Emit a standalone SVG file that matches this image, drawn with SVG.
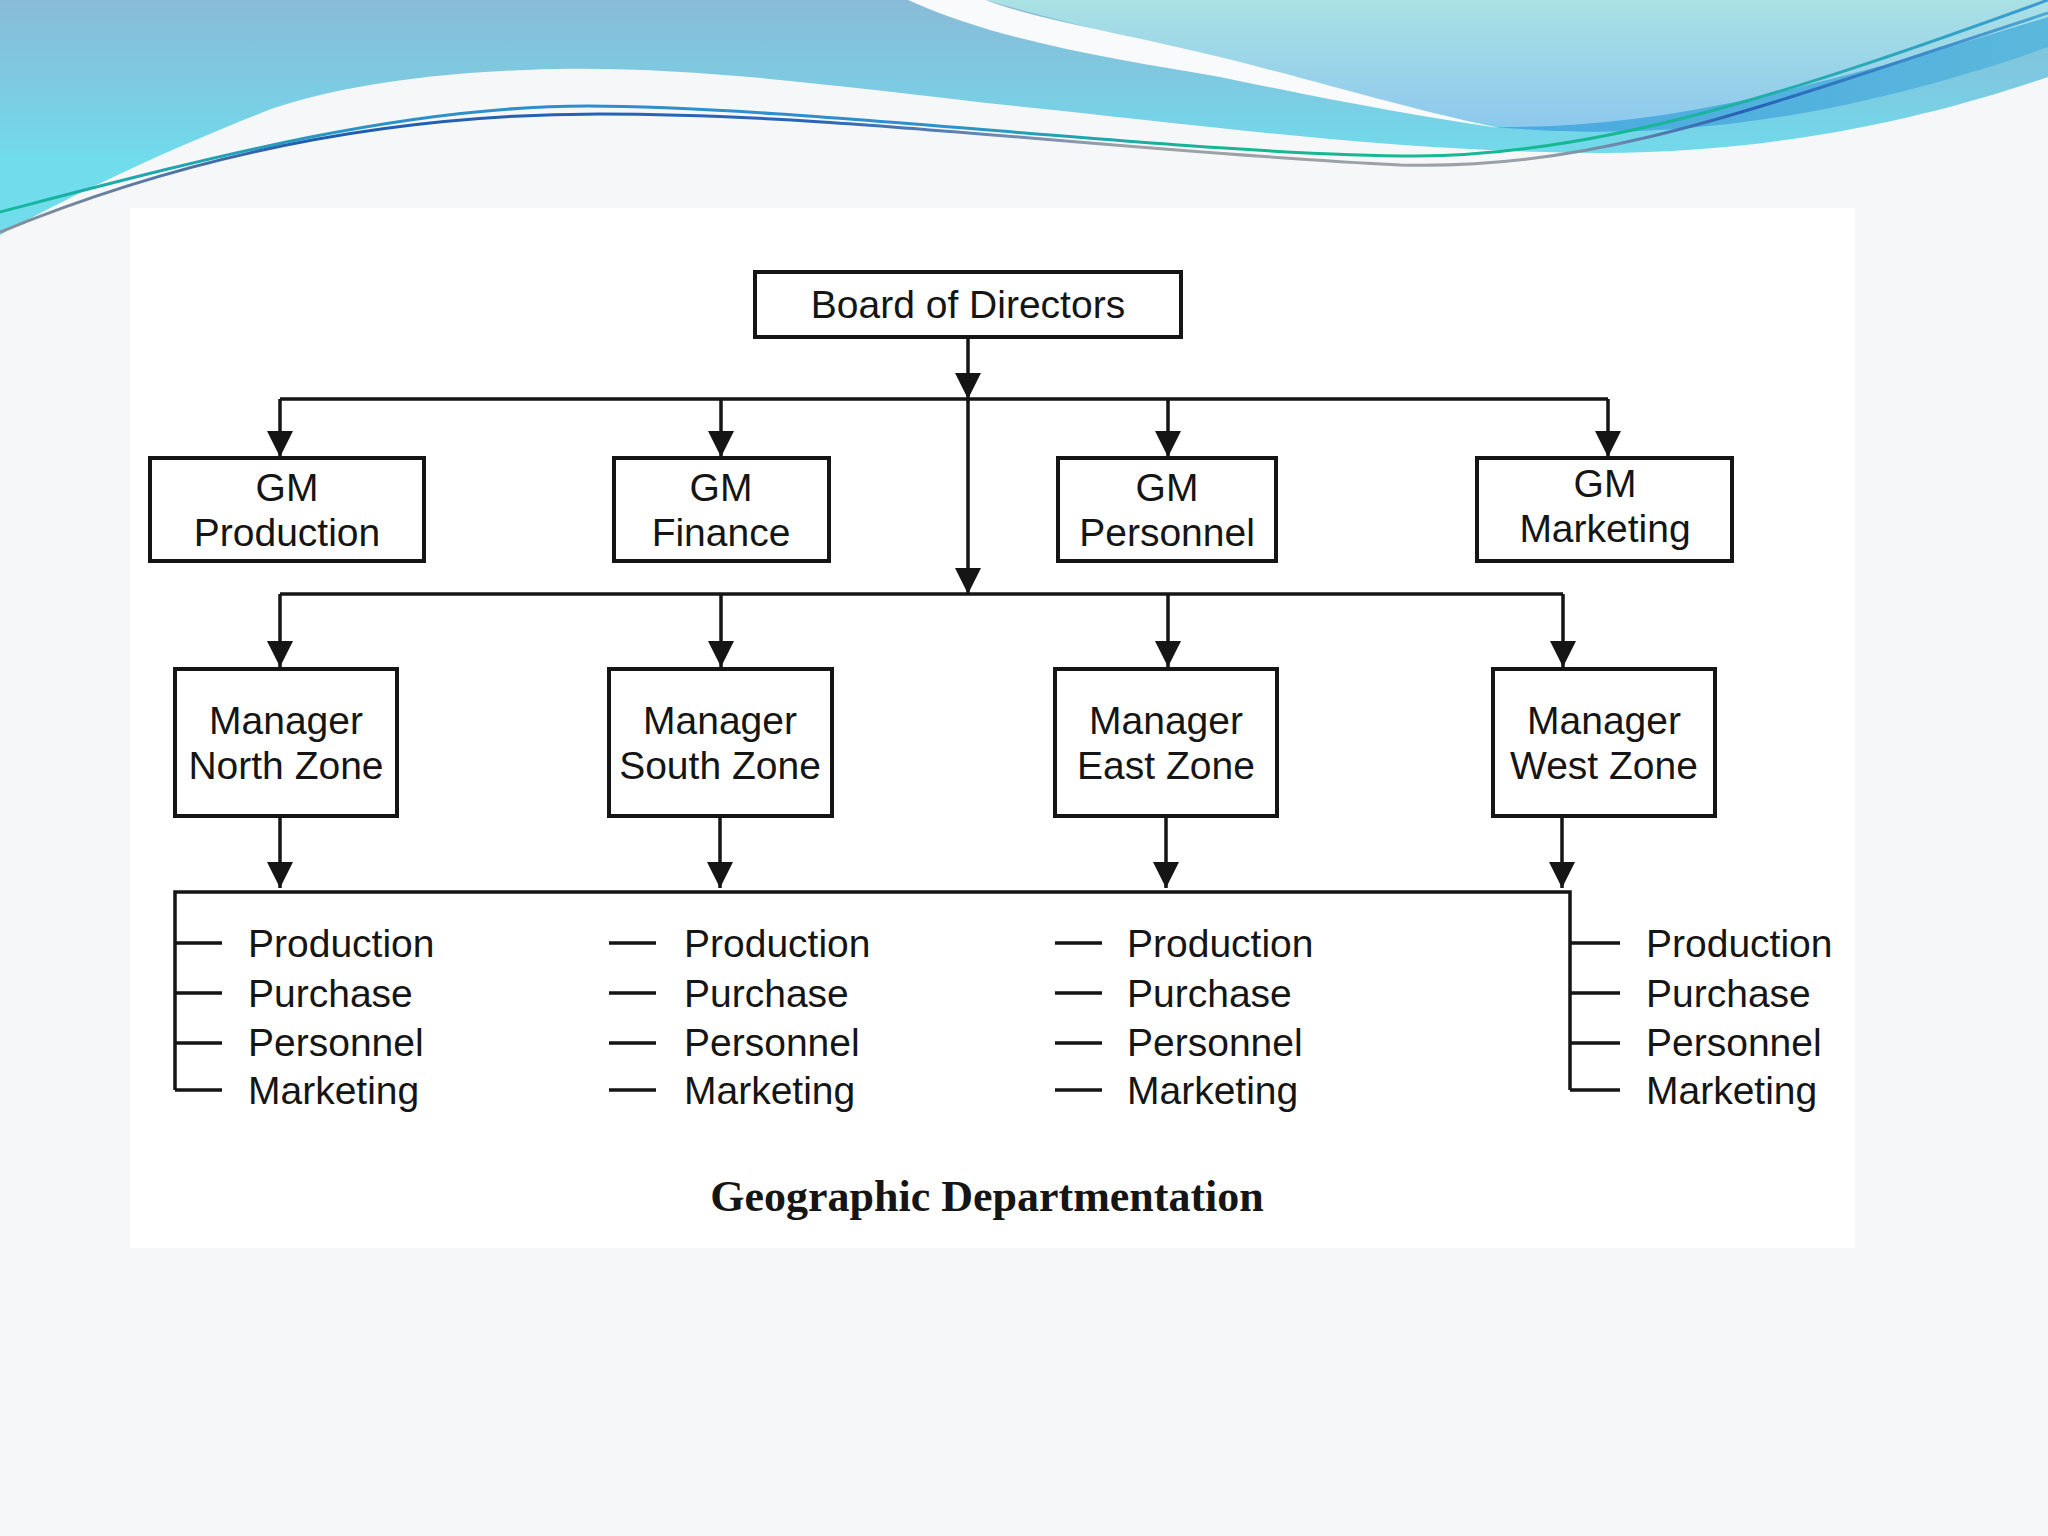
<svg xmlns="http://www.w3.org/2000/svg" width="2048" height="1536" viewBox="0 0 2048 1536">
<defs>
<linearGradient id="gBlue" gradientUnits="userSpaceOnUse" x1="0" y1="0" x2="0" y2="160">
<stop offset="0" stop-color="#89bbd8"/>
<stop offset="0.55" stop-color="#7ccbe2"/>
<stop offset="1" stop-color="#70dcec"/>
</linearGradient>
<linearGradient id="gAqua" gradientUnits="userSpaceOnUse" x1="0" y1="0" x2="0" y2="135">
<stop offset="0" stop-color="#a9e1e4"/>
<stop offset="1" stop-color="#8cc7ee"/>
</linearGradient>
<linearGradient id="gBand" gradientUnits="userSpaceOnUse" x1="1500" y1="0" x2="2048" y2="0">
<stop offset="0" stop-color="#4aa9e0"/>
<stop offset="1" stop-color="#5ab8dc"/>
</linearGradient>
<linearGradient id="gL1" gradientUnits="userSpaceOnUse" x1="0" y1="0" x2="2048" y2="0">
<stop offset="0" stop-color="#14b89a"/>
<stop offset="0.2" stop-color="#2c8fcc"/>
<stop offset="0.45" stop-color="#2d8fd0"/>
<stop offset="0.6" stop-color="#14b890"/>
<stop offset="0.8" stop-color="#16b894"/>
<stop offset="1" stop-color="#3a9bd6"/>
</linearGradient>
<linearGradient id="gL2" gradientUnits="userSpaceOnUse" x1="0" y1="0" x2="2048" y2="0">
<stop offset="0" stop-color="#8c9298"/>
<stop offset="0.15" stop-color="#1f5db0"/>
<stop offset="0.4" stop-color="#2a66b8"/>
<stop offset="0.55" stop-color="#9da2a8"/>
<stop offset="0.75" stop-color="#9aa0a6"/>
<stop offset="0.85" stop-color="#2461b4"/>
<stop offset="1" stop-color="#4ea8d8"/>
</linearGradient>
<marker id="ah" markerUnits="userSpaceOnUse" markerWidth="26" markerHeight="26" viewBox="0 0 24 24" refX="24" refY="12" orient="auto">
<path d="M0,0 L24,12 L0,24 Z" fill="#151515"/>
</marker>
</defs>
<style>
.box{fill:#ffffff;stroke:#151515;stroke-width:4}
.ln{fill:none;stroke:#151515;stroke-width:3.5}
.ar{fill:none;stroke:#151515;stroke-width:3.5;marker-end:url(#ah)}
.t{font-family:"Liberation Sans",Arial,sans-serif;font-size:39px;fill:#151515;text-anchor:middle}
.li{font-family:"Liberation Sans",Arial,sans-serif;font-size:39px;fill:#151515;text-anchor:start}
.cap{font-family:"Liberation Serif","Times New Roman",serif;font-size:44px;font-weight:bold;fill:#151515;text-anchor:middle}
</style>
<rect x="0" y="0" width="2048" height="1536" fill="#f6f7f9"/>
<g id="background-waves">
<path d="M0,0 H2048 V77 C1950,110 1800,152 1600,153 C1400,152 1200,125 1024,107 C850,88 700,66 555,69 C420,72 320,90 261,113 C180,145 80,190 0,235 Z" fill="url(#gBlue)"/>
<path d="M986,0 H2048 V20 C1900,65 1750,122 1560,128 C1500,130 1430,115 1350,93 C1230,60 1080,28 986,0 Z" fill="url(#gAqua)"/>
<path d="M908,0 L986,0 C1030,18 1130,35 1220,57 C1320,82 1420,112 1500,128 C1420,117 1320,98 1220,77 C1120,60 1000,42 908,0 Z" fill="#f8fafb"/>
<path d="M1494,127 C1600,128 1700,112 1800,87 C1900,62 1980,38 2048,17 V47 C1950,82 1800,125 1640,131 C1580,133 1530,130 1494,127 Z" fill="url(#gBand)"/>
<path d="M0,212 C200,160 400,106 588,106 C800,106 1200,156 1416,156 C1600,156 1800,90 2048,0" fill="none" stroke="url(#gL1)" stroke-width="3"/>
<path d="M0,232 C200,150 400,114 600,114 C850,114 1100,150 1400,165 C1600,170 1750,110 2048,13" fill="none" stroke="url(#gL2)" stroke-width="3"/>
</g>
<rect x="130" y="208" width="1725" height="1040" fill="#ffffff"/>
<g id="connectors">
<path class="ar" d="M968,337 V399"/>
<path class="ln" d="M280,399 H1608"/>
<path class="ar" d="M280,399 V457"/>
<path class="ar" d="M721,399 V457"/>
<path class="ar" d="M1168,399 V457"/>
<path class="ar" d="M1608,399 V457"/>
<path class="ar" d="M968,399 V594"/>
<path class="ln" d="M280,594 H1563"/>
<path class="ar" d="M280,594 V667"/>
<path class="ar" d="M721,594 V667"/>
<path class="ar" d="M1168,594 V667"/>
<path class="ar" d="M1563,594 V667"/>
<path class="ar" d="M280,816 V888"/>
<path class="ar" d="M720,816 V888"/>
<path class="ar" d="M1166,816 V888"/>
<path class="ar" d="M1562,816 V888"/>
<path class="ln" d="M175,1090 V892 H1570 V1090"/>
<path class="ln" d="M175,943 H222 M175,993 H222 M175,1043 H222 M175,1090 H222"/>
<path class="ln" d="M609,943 H656 M609,993 H656 M609,1043 H656 M609,1090 H656"/>
<path class="ln" d="M1055,943 H1102 M1055,993 H1102 M1055,1043 H1102 M1055,1090 H1102"/>
<path class="ln" d="M1570,943 H1620 M1570,993 H1620 M1570,1043 H1620 M1570,1090 H1620"/>
</g>
<g id="board">
<rect class="box" x="755" y="272" width="426" height="65"/>
<text class="t" x="968" y="318">Board of Directors</text>
</g>
<g id="gm-production">
<rect class="box" x="150" y="458" width="274" height="103"/>
<text class="t" x="287" y="501">GM</text>
<text class="t" x="287" y="546">Production</text>
</g>
<g id="gm-finance">
<rect class="box" x="614" y="458" width="215" height="103"/>
<text class="t" x="721" y="501">GM</text>
<text class="t" x="721" y="546">Finance</text>
</g>
<g id="gm-personnel">
<rect class="box" x="1058" y="458" width="218" height="103"/>
<text class="t" x="1167" y="501">GM</text>
<text class="t" x="1167" y="546">Personnel</text>
</g>
<g id="gm-marketing">
<rect class="box" x="1477" y="458" width="255" height="103"/>
<text class="t" x="1605" y="497">GM</text>
<text class="t" x="1605" y="542">Marketing</text>
</g>
<g id="mgr-north">
<rect class="box" x="175" y="669" width="222" height="147"/>
<text class="t" x="286" y="734">Manager</text>
<text class="t" x="286" y="779">North Zone</text>
</g>
<g id="mgr-south">
<rect class="box" x="609" y="669" width="223" height="147"/>
<text class="t" x="720" y="734">Manager</text>
<text class="t" x="720" y="779">South Zone</text>
</g>
<g id="mgr-east">
<rect class="box" x="1055" y="669" width="222" height="147"/>
<text class="t" x="1166" y="734">Manager</text>
<text class="t" x="1166" y="779">East Zone</text>
</g>
<g id="mgr-west">
<rect class="box" x="1493" y="669" width="222" height="147"/>
<text class="t" x="1604" y="734">Manager</text>
<text class="t" x="1604" y="779">West Zone</text>
</g>
<g id="list-north">
<text class="li" x="248" y="957">Production</text>
<text class="li" x="248" y="1007">Purchase</text>
<text class="li" x="248" y="1056">Personnel</text>
<text class="li" x="248" y="1104">Marketing</text>
</g>
<g id="list-south">
<text class="li" x="684" y="957">Production</text>
<text class="li" x="684" y="1007">Purchase</text>
<text class="li" x="684" y="1056">Personnel</text>
<text class="li" x="684" y="1104">Marketing</text>
</g>
<g id="list-east">
<text class="li" x="1127" y="957">Production</text>
<text class="li" x="1127" y="1007">Purchase</text>
<text class="li" x="1127" y="1056">Personnel</text>
<text class="li" x="1127" y="1104">Marketing</text>
</g>
<g id="list-west">
<text class="li" x="1646" y="957">Production</text>
<text class="li" x="1646" y="1007">Purchase</text>
<text class="li" x="1646" y="1056">Personnel</text>
<text class="li" x="1646" y="1104">Marketing</text>
</g>
<text class="cap" x="987" y="1211">Geographic Departmentation</text>
</svg>
